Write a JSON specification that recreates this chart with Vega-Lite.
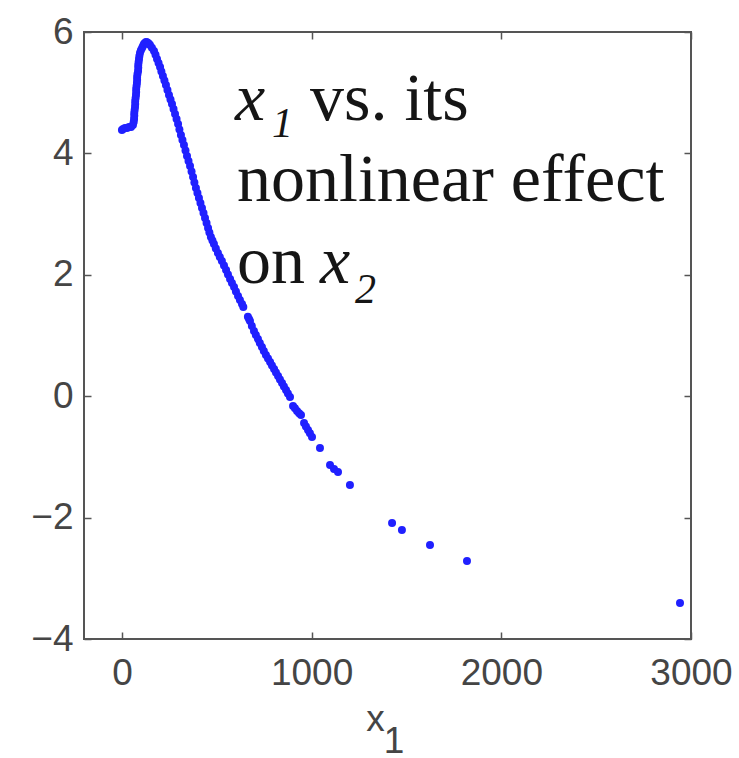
{
  "$schema": "https://vega.github.io/schema/vega-lite/v6.json",
  "width": 607,
  "height": 607,
  "autosize": {"type": "none"},
  "padding": {"left": 84, "top": 32, "right": 48, "bottom": 119},
  "background": "white",
  "config": {
    "view": {"stroke": "#555555", "strokeWidth": 2},
    "axis": {
      "domain": false, "grid": false,
      "labelFont": "Liberation Sans", "labelFontSize": 37, "labelColor": "#454545",
      "labelFlush": false, "labelOverlap": false,
      "tickColor": "#555555", "tickSize": -7, "tickWidth": 1.5,
      "titleFont": "Liberation Sans", "titleFontWeight": "normal", "titleFontSize": 37, "titleColor": "#454545"
    }
  },
  "datasets": {
    "pts": [
      {"x1": 0, "f": 4.386}, {"x1": 6, "f": 4.402}, {"x1": 16, "f": 4.418}, {"x1": 27, "f": 4.418}, {"x1": 37, "f": 4.435}, {"x1": 48, "f": 4.435}, {"x1": 58, "f": 4.468}, {"x1": 62, "f": 4.517}, {"x1": 64, "f": 4.567}, {"x1": 65, "f": 4.62}, {"x1": 65, "f": 4.666}, {"x1": 67, "f": 4.715}, {"x1": 69, "f": 4.764}, {"x1": 70, "f": 4.813}, {"x1": 70, "f": 4.863}, {"x1": 72, "f": 4.912}, {"x1": 74, "f": 4.962}, {"x1": 75, "f": 5.011}, {"x1": 75, "f": 5.061}, {"x1": 77, "f": 5.11}, {"x1": 79, "f": 5.16}, {"x1": 80, "f": 5.21}, {"x1": 80, "f": 5.259}, {"x1": 82, "f": 5.308}, {"x1": 85, "f": 5.358}, {"x1": 86, "f": 5.41}, {"x1": 86, "f": 5.456}, {"x1": 88, "f": 5.505}, {"x1": 90, "f": 5.555}, {"x1": 92, "f": 5.605}, {"x1": 95, "f": 5.654}, {"x1": 100, "f": 5.7}, {"x1": 106, "f": 5.736}, {"x1": 111, "f": 5.77}, {"x1": 116, "f": 5.802}, {"x1": 121, "f": 5.82}, {"x1": 127, "f": 5.835}, {"x1": 132, "f": 5.83}, {"x1": 137, "f": 5.819}, {"x1": 142, "f": 5.805}, {"x1": 148, "f": 5.786}, {"x1": 158, "f": 5.742}, {"x1": 169, "f": 5.687}, {"x1": 177, "f": 5.625}, {"x1": 185, "f": 5.555}, {"x1": 193, "f": 5.489}, {"x1": 201, "f": 5.423}, {"x1": 208, "f": 5.35}, {"x1": 216, "f": 5.275}, {"x1": 224, "f": 5.201}, {"x1": 232, "f": 5.127}, {"x1": 240, "f": 5.045}, {"x1": 248, "f": 4.962}, {"x1": 256, "f": 4.888}, {"x1": 264, "f": 4.814}, {"x1": 272, "f": 4.732}, {"x1": 280, "f": 4.649}, {"x1": 288, "f": 4.567}, {"x1": 296, "f": 4.484}, {"x1": 303, "f": 4.394}, {"x1": 311, "f": 4.303}, {"x1": 319, "f": 4.221}, {"x1": 327, "f": 4.138}, {"x1": 335, "f": 4.048}, {"x1": 343, "f": 3.957}, {"x1": 351, "f": 3.875}, {"x1": 359, "f": 3.792}, {"x1": 367, "f": 3.702}, {"x1": 375, "f": 3.611}, {"x1": 382, "f": 3.521}, {"x1": 390, "f": 3.43}, {"x1": 398, "f": 3.348}, {"x1": 406, "f": 3.265}, {"x1": 414, "f": 3.183}, {"x1": 422, "f": 3.101}, {"x1": 430, "f": 3.019}, {"x1": 438, "f": 2.936}, {"x1": 446, "f": 2.854}, {"x1": 454, "f": 2.771}, {"x1": 461, "f": 2.697}, {"x1": 469, "f": 2.623}, {"x1": 477, "f": 2.565}, {"x1": 485, "f": 2.507}, {"x1": 495, "f": 2.433}, {"x1": 506, "f": 2.359}, {"x1": 516, "f": 2.293}, {"x1": 527, "f": 2.227}, {"x1": 538, "f": 2.153}, {"x1": 549, "f": 2.079}, {"x1": 559, "f": 2.005}, {"x1": 570, "f": 1.931}, {"x1": 580, "f": 1.865}, {"x1": 591, "f": 1.799}, {"x1": 601, "f": 1.725}, {"x1": 612, "f": 1.651}, {"x1": 622, "f": 1.585}, {"x1": 633, "f": 1.519}, {"x1": 640, "f": 1.47},
      {"x1": 664, "f": 1.31}, {"x1": 670, "f": 1.27}, {"x1": 675, "f": 1.239}, {"x1": 685, "f": 1.156}, {"x1": 696, "f": 1.074}, {"x1": 706, "f": 1.008}, {"x1": 717, "f": 0.942}, {"x1": 727, "f": 0.876}, {"x1": 738, "f": 0.811}, {"x1": 748, "f": 0.745}, {"x1": 759, "f": 0.679}, {"x1": 770, "f": 0.621}, {"x1": 781, "f": 0.564}, {"x1": 791, "f": 0.506}, {"x1": 802, "f": 0.448}, {"x1": 812, "f": 0.39}, {"x1": 823, "f": 0.333}, {"x1": 833, "f": 0.275}, {"x1": 844, "f": 0.218}, {"x1": 854, "f": 0.16}, {"x1": 865, "f": 0.102}, {"x1": 875, "f": 0.044}, {"x1": 886, "f": -0.013},
      {"x1": 902, "f": -0.161}, {"x1": 912, "f": -0.2}, {"x1": 923, "f": -0.244}, {"x1": 934, "f": -0.28}, {"x1": 944, "f": -0.31},
      {"x1": 960, "f": -0.441}, {"x1": 970, "f": -0.5}, {"x1": 981, "f": -0.557}, {"x1": 991, "f": -0.61}, {"x1": 1002, "f": -0.672},
      {"x1": 1044, "f": -0.853},
      {"x1": 1097, "f": -1.133}, {"x1": 1118, "f": -1.199}, {"x1": 1139, "f": -1.249},
      {"x1": 1202, "f": -1.463}, {"x1": 1424, "f": -2.089}, {"x1": 1476, "f": -2.204}, {"x1": 1624, "f": -2.451}, {"x1": 1819, "f": -2.715}, {"x1": 2942, "f": -3.407}
    ],
    "roman": [
      {"t": "vs. its", "x": 991, "y": 4.55},
      {"t": "nonlinear effect", "x": 607, "y": 3.216},
      {"t": "on", "x": 607, "y": 1.865}
    ],
    "italic": [
      {"t": "x", "x": 596, "y": 4.55},
      {"t": "x", "x": 1044, "y": 1.865}
    ],
    "sub": [
      {"t": "1", "x": 791, "y": 4.27},
      {"t": "2", "x": 1229, "y": 1.535}
    ],
    "titlesub": [
      {"t": "1", "x": 1434, "y": -5.87}
    ]
  },
  "layer": [
    {
      "data": {"name": "pts"},
      "mark": {"type": "circle", "size": 64, "color": "#2020ff", "opacity": 1},
      "encoding": {
        "x": {"field": "x1", "type": "quantitative",
          "scale": {"domain": [-200, 3000], "nice": false, "zero": false},
          "axis": {"orient": "bottom", "values": [0, 1000, 2000, 3000], "format": "d", "labelPadding": 23,
            "title": "x", "titleX": 291, "titleY": 91, "titleBaseline": "alphabetic", "titleAlign": "center"}},
        "y": {"field": "f", "type": "quantitative",
          "scale": {"domain": [-4, 6], "nice": false, "zero": false},
          "axis": {"orient": "left", "values": [-4, -2, 0, 2, 4, 6], "labelPadding": 18, "title": null}}
      }
    },
    {
      "data": {"name": "roman"},
      "mark": {"type": "text", "font": "Liberation Serif", "fontSize": 68, "align": "left", "baseline": "alphabetic", "color": "#151515"},
      "encoding": {
        "x": {"field": "x", "type": "quantitative", "scale": {"domain": [-200, 3000], "nice": false, "zero": false},
          "axis": {"orient": "top", "values": [0, 1000, 2000, 3000], "labels": false, "title": null}},
        "y": {"field": "y", "type": "quantitative", "scale": {"domain": [-4, 6], "nice": false, "zero": false},
          "axis": {"orient": "right", "values": [-4, -2, 0, 2, 4, 6], "labels": false, "title": null}},
        "text": {"field": "t"}
      }
    },
    {
      "data": {"name": "italic"},
      "mark": {"type": "text", "font": "Liberation Serif", "fontSize": 68, "fontStyle": "italic", "align": "left", "baseline": "alphabetic", "color": "#151515"},
      "encoding": {
        "x": {"field": "x", "type": "quantitative", "axis": null},
        "y": {"field": "y", "type": "quantitative", "axis": null},
        "text": {"field": "t"}
      }
    },
    {
      "data": {"name": "sub"},
      "mark": {"type": "text", "font": "Liberation Serif", "fontSize": 42, "fontStyle": "italic", "align": "left", "baseline": "alphabetic", "color": "#151515"},
      "encoding": {
        "x": {"field": "x", "type": "quantitative", "axis": null},
        "y": {"field": "y", "type": "quantitative", "axis": null},
        "text": {"field": "t"}
      }
    },
    {
      "data": {"name": "titlesub"},
      "mark": {"type": "text", "font": "Liberation Sans", "fontSize": 37, "align": "center", "baseline": "alphabetic", "color": "#454545"},
      "encoding": {
        "x": {"field": "x", "type": "quantitative", "axis": null},
        "y": {"field": "y", "type": "quantitative", "axis": null},
        "text": {"field": "t"}
      }
    }
  ],
  "resolve": {"axis": {"x": "independent", "y": "independent"}}
}
